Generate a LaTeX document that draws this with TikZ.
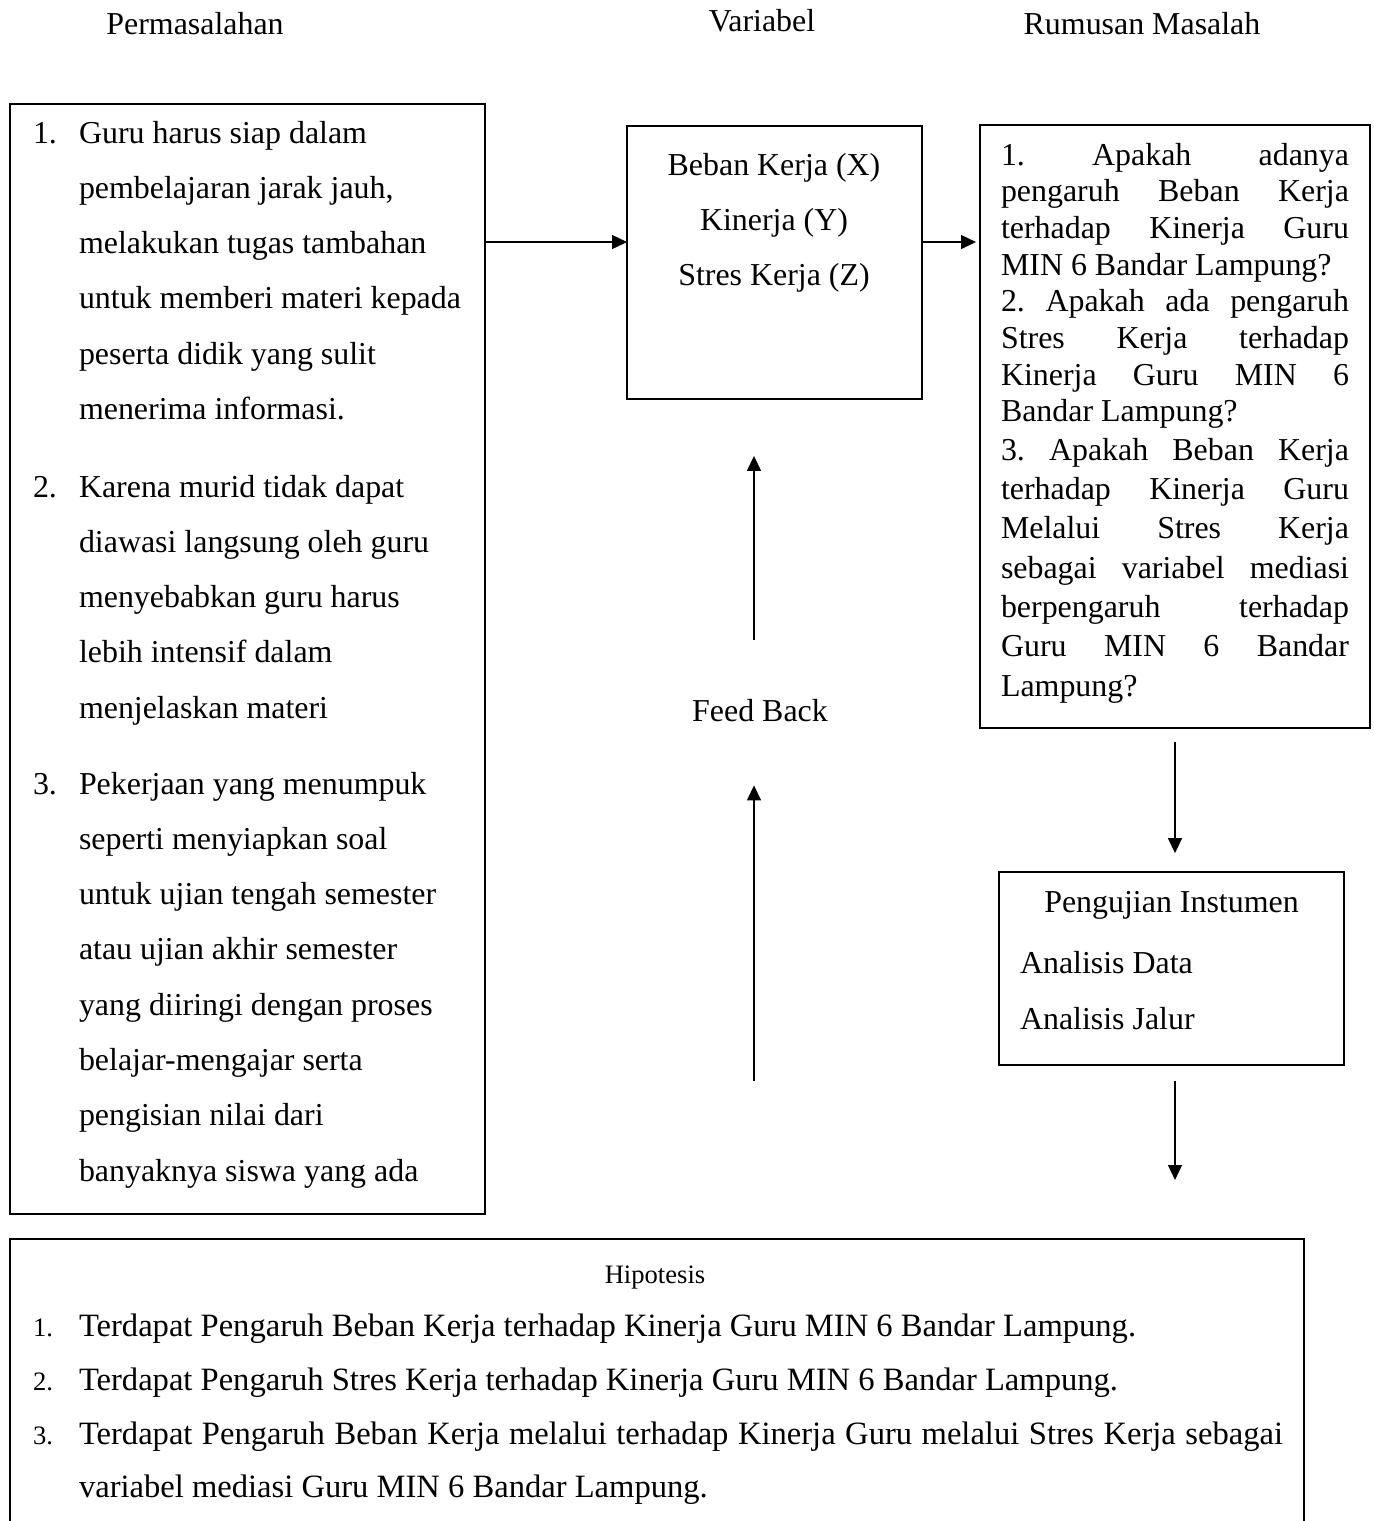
\documentclass[tikz,border=0pt]{standalone}
\usepackage{fontspec}
\setmainfont{Liberation Serif}
\usetikzlibrary{arrows.meta,calc}
\newlength\rw \setlength\rw{130.85pt}
\newcommand\ns{\frenchspacing\spaceskip=\fontdimen2\font\xspaceskip=\fontdimen2\font\relax}
\newcommand\jline[2][\rw]{\makebox[#1][s]{\frenchspacing\spaceskip=0pt\xspaceskip=0pt\relax #2}}
\begin{document}
\begin{tikzpicture}[x=0.376pt,y=-0.376pt,
  box/.style={draw,line width=1pt,inner sep=0pt,outer sep=0pt},
  txt/.style={inner sep=0pt,outer sep=0pt,font=\fontsize{12}{13.8}\selectfont},
  lst/.style={txt,anchor=base west,align=left,text width=180pt,font=\fontsize{12}{20.8}\selectfont},
  small/.style={txt,font=\fontsize{10}{12}\selectfont},
  big/.style={txt,font=\fontsize{12.25}{20}\selectfont},
  arr/.style={line width=0.6pt,-{Triangle[length=5.6pt,width=5.2pt]}}]
\clip (0,0) rectangle (1374,1521);
% headers
\node[txt,anchor=base] (h1) at (195,34) {Permasalahan};
\node[txt,anchor=base] (h2) at (762,32) {Variabel};
\node[txt,anchor=base] (h3) at (1142,34) {Rumusan Masalah};
% left box
\node[box,minimum width=475*0.376pt,minimum height=1110*0.376pt] (prob) at (247.5,659) {};
\node[txt,anchor=base west] (n1) at (33,143) {1.};
\node[lst] (p1) at (79,143) {\ns Guru harus siap dalam\\pembelajaran jarak jauh,\\melakukan tugas tambahan\\untuk memberi materi kepada\\peserta didik yang sulit\\menerima informasi.};
\node[txt,anchor=base west] (n2) at (33,497) {2.};
\node[lst] (p2) at (79,497) {\ns Karena murid tidak dapat\\diawasi langsung oleh guru\\menyebabkan guru harus\\lebih intensif dalam\\menjelaskan materi};
\node[txt,anchor=base west] (n3) at (33,794) {3.};
\node[lst] (p3) at (79,794) {\ns Pekerjaan yang menumpuk\\seperti menyiapkan soal\\untuk ujian tengah semester\\atau ujian akhir semester\\yang diiringi dengan proses\\belajar-mengajar serta\\pengisian nilai dari\\banyaknya siswa yang ada};
% middle box
\node[box,minimum width=295*0.376pt,minimum height=273*0.376pt] (mid) at (774.5,262.5) {};
\node[txt,anchor=base,text width=150pt,align=center,font=\fontsize{12}{20.7}\selectfont] (vars) at (774,175) {\ns Beban Kerja (X)\\Kinerja (Y)\\Stres Kerja (Z)};
% right box
\node[box,minimum width=390*0.376pt,minimum height=603*0.376pt] (rm) at (1175,426.5) {};
\node[txt,anchor=base west,text width=\rw,align=left] (rq12) at (1001,165) {\ns\jline{1. Apakah adanya}\\\jline{pengaruh Beban Kerja}\\\jline{terhadap Kinerja Guru}\\MIN 6 Bandar Lampung?\\\jline{2. Apakah ada pengaruh}\\\jline{Stres Kerja terhadap}\\\jline{Kinerja Guru MIN 6}\\Bandar Lampung?};
\node[txt,anchor=base west,text width=\rw,align=left,font=\fontsize{12}{14.8}\selectfont] (rq3) at (1001,460) {\ns\jline{3. Apakah Beban Kerja}\\\jline{terhadap Kinerja Guru}\\\jline{Melalui Stres Kerja}\\\jline{sebagai variabel mediasi}\\\jline{berpengaruh terhadap}\\\jline{Guru MIN 6 Bandar}\\Lampung?};
% pengujian box
\node[box,minimum width=345*0.376pt,minimum height=193*0.376pt] (pj) at (1171.5,968.5) {};
\node[txt,anchor=base] (pj1) at (1171.5,912) {Pengujian Instumen};
\node[txt,anchor=base west] (pj2) at (1020,973) {Analisis Data};
\node[txt,anchor=base west] (pj3) at (1020,1029) {Analisis Jalur};
% feed back
\node[txt,anchor=base] (fb) at (760,721) {Feed Back};
% hipotesis box
\node[box,minimum width=1294*0.376pt,minimum height=330*0.376pt,anchor=north west] (hyp) at (10,1239) {};
\node[small,anchor=base] (ht) at (655,1283) {Hipotesis};
\node[small,anchor=base west] (m1) at (33,1336) {1.};
\node[big,anchor=base west] (hy1) at (79,1336) {Terdapat Pengaruh Beban Kerja terhadap Kinerja Guru MIN 6 Bandar Lampung.};
\node[small,anchor=base west] (m2) at (33,1390) {2.};
\node[big,anchor=base west] (hy2) at (79,1390) {Terdapat Pengaruh Stres Kerja terhadap Kinerja Guru MIN 6 Bandar Lampung.};
\node[small,anchor=base west] (m3) at (33,1444) {3.};
\node[big,anchor=base west,text width=470pt,align=left] (hy3) at (79,1444) {\ns\jline[452.7pt]{Terdapat Pengaruh Beban Kerja melalui terhadap Kinerja Guru melalui Stres Kerja sebagai}\\variabel mediasi Guru MIN 6 Bandar Lampung.};
% connectors
\coordinate (ay) at ($(mid.north west)!0.425!(mid.south west)$);
\draw[arr] (prob.east |- ay) -- (ay);
\draw[arr,shorten >=1.5pt] (mid.east |- ay) -- (rm.west |- ay);
\draw[arr,shorten <=5.3pt,shorten >=7.1pt] (rm.south) -- (rm.south |- pj.north);
\draw[arr,shorten <=6pt,shorten >=22.2pt] (rm.south |- pj.south) -- (rm.south |- hyp.north);
\coordinate (fbx) at (754,1081);
\draw[arr,shorten >=24.1pt] (fbx) -- (fbx |- fb.south);
\draw[arr,shorten <=22.2pt,shorten >=21.4pt] (fbx |- fb.north) -- (fbx |- mid.south);
\end{tikzpicture}
\end{document}
